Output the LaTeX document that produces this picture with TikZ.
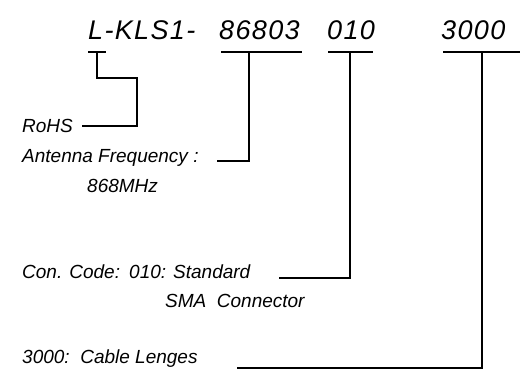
\documentclass[tikz,border=0pt]{standalone}
\usepackage{fontspec}
\setmainfont{Liberation Sans}
\begin{document}
\begin{tikzpicture}[x=1pt, y=-1pt,
    code/.style = {anchor=base west, inner sep=0pt,
                   font=\fontsize{27}{30}\selectfont\itshape\addfontfeature{LetterSpace=5}},
    lbl/.style  = {anchor=base west, inner sep=0pt,
                   font=\fontsize{19}{22}\selectfont\itshape},
    lead/.style = {line width=1.2pt},
  ]
    \useasboundingbox (0,0) rectangle (529,374);

    % part number
    \node[code] (pre)  at (88,40)  {L-KLS1-};
    \node[code] (freq) at (219,40) {86803};
    \node[code] (con)  at (327,40) {010};
    \node[code] (len)  at (441,40) {3000};

    % underlines
    \draw[lead] (88,52)  -- (106,52);
    \draw[lead] (221,52) -- (302,52);
    \draw[lead] (328,52) -- (373,52);
    \draw[lead] (443,52) -- (520,52);

    % descriptions
    \node[lbl] (rohs)  at (22,133)  {RoHS};
    \node[lbl] (ant)   at (22,162)  {Antenna Frequency :};
    \node[lbl] (mhz)   at (87,192)  {868MHz};
    \node[lbl] (ccode) at (22,278)  {Con. Code:};
    \node[lbl] (std)   at (129,278) {010: Standard};
    \node[lbl] (sma)   at (165,307) {SMA\ \ Connector};
    \node[lbl] (cable) at (22,363)  {3000:\ \ Cable Lenges};

    \coordinate (pre-t)  at (97,52);
    \coordinate (freq-t) at (249,52);
    \coordinate (con-t)  at (350,52);
    \coordinate (len-t)  at (482,52);
    \coordinate (rohs-e) at (82,126);
    \coordinate (ant-e)  at (217,161);
    \coordinate (con-e)  at (279,278);
    \coordinate (len-e)  at (237,368);

    \draw[lead] (pre-t) -- ++(0,26) -| (137,126) -- (rohs-e);
    \draw[lead] (freq-t) |- (ant-e);
    \draw[lead] (con-t)  |- (con-e);
    \draw[lead] (len-t)  |- (len-e);
\end{tikzpicture}
\end{document}
